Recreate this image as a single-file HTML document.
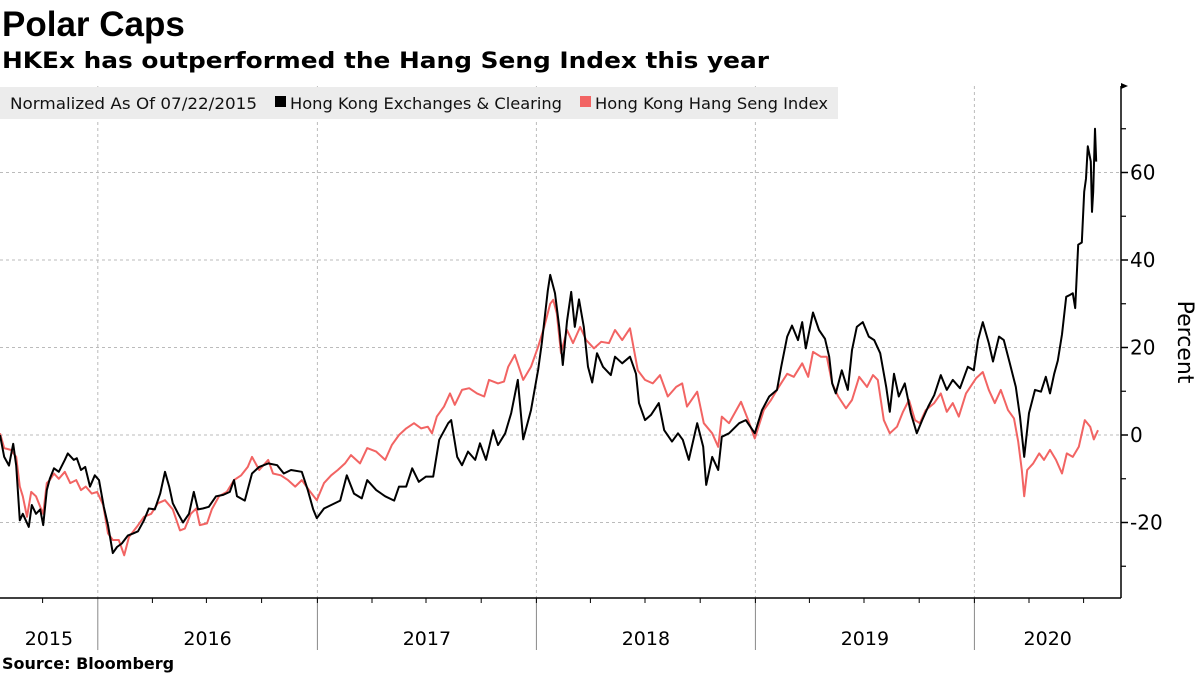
<!DOCTYPE html>
<html><head><meta charset="utf-8"><style>
body{margin:0;background:#fff;width:1200px;height:675px;overflow:hidden;font-family:"DejaVu Sans",sans-serif}
</style></head><body>
<svg id="chart" width="1200" height="675" xmlns="http://www.w3.org/2000/svg">
<text x="2" y="36" font-size="35" font-weight="bold" font-family="Liberation Sans, sans-serif">Polar Caps</text>
<text x="2" y="68" font-size="22" font-weight="bold" font-family="DejaVu Sans, sans-serif" textLength="767" lengthAdjust="spacingAndGlyphs">HKEx has outperformed the Hang Seng Index this year</text>
<g id="grid"></g>
<g id="axes" font-family="DejaVu Sans, sans-serif"></g>
<g id="series"></g>
<g font-family="DejaVu Sans, sans-serif">
<rect x="0" y="87" width="838" height="32" fill="#ececec"/>
<text x="10" y="109" font-size="16" fill="#111" textLength="247" lengthAdjust="spacingAndGlyphs">Normalized As Of 07/22/2015</text>
<rect x="275" y="96" width="11" height="11" fill="#000"/>
<text x="290" y="109" font-size="16" fill="#111" textLength="272" lengthAdjust="spacingAndGlyphs">Hong Kong Exchanges &amp; Clearing</text>
<rect x="580" y="96" width="11" height="11" fill="#f26463"/>
<text x="595" y="109" font-size="16" fill="#111" textLength="233" lengthAdjust="spacingAndGlyphs">Hong Kong Hang Seng Index</text>
</g>
<text transform="translate(1178,342) rotate(90)" text-anchor="middle" font-size="22" fill="#000" font-family="DejaVu Sans, sans-serif">Percent</text>
<text x="2" y="669" font-size="16" font-weight="bold" font-family="DejaVu Sans, sans-serif">Source: Bloomberg</text>
</svg>
<script>
// days since 2015-07-22
const hkexDays=[0,7,15,22,27,33,38,48,53,60,67,72,78,83,90,98,108,113,123,128,135,142,150,158,165,173,180,188,195,203,213,222,230,240,248,258,267,275,282,288,297,305,315,323,330,338,348,360,372,383,390,395,408,420,432,447,462,473,485,503,513,522,528,540,552,567,578,590,603,612,627,642,657,665,677,687,698,710,722,732,747,752,762,770,780,792,800,810,822,830,842,852,863,872,885,897,903,913,917,925,932,938,945,952,958,965,973,980,987,995,1005,1018,1025,1037,1050,1060,1065,1075,1085,1098,1107,1120,1130,1138,1148,1162,1172,1177,1187,1197,1203,1215,1232,1243,1258,1270,1282,1295,1302,1312,1320,1330,1337,1343,1355,1365,1375,1382,1387,1393,1403,1413,1420,1428,1438,1448,1457,1467,1477,1483,1490,1498,1508,1518,1528,1537,1547,1557,1568,1578,1588,1600,1613,1623,1630,1638,1648,1655,1665,1673,1683,1693,1700,1707,1715,1725,1735,1743,1750,1757,1763,1770,1777,1783,1788,1792,1797,1803,1807,1810,1813,1818,1820,1822,1825,1827];
const hkexValues=[0,-5,-7,-2,-7,-19.5,-18,-21,-16,-18,-17,-20.6,-12.6,-10,-7.6,-8.4,-5.7,-4.2,-5.7,-5.3,-8,-7.3,-11.8,-9.2,-10.3,-16.4,-20.6,-27,-25.6,-24.8,-23,-22.5,-22,-19.5,-16.8,-17,-13.4,-8.4,-11.8,-15.6,-18,-20,-18,-13,-17,-16.8,-16.4,-14,-13.7,-13,-10.3,-14,-15,-8.8,-7.3,-6.5,-6.9,-8.8,-8,-8.4,-12.6,-17,-19,-16.8,-16,-15,-9.2,-13.4,-14.5,-10.3,-12.6,-14,-15,-11.8,-11.8,-7.6,-10.7,-9.5,-9.5,-1.1,2.7,3.4,-5,-6.9,-3.8,-5.7,-1.9,-5.7,1.1,-2.3,0.4,5,12.6,-1,5.7,15,21,33,36.6,32.4,24.7,16,26,32.7,24.7,31,24.7,15.6,12,18.7,15.6,13.7,17.9,16.4,17.9,14,7.3,3.4,4.6,7.3,1.1,-1.5,0.4,-1.1,-5.7,2.7,-2.7,-11.4,-5,-8,-0.4,0.4,2.7,3.4,0.4,5.7,8.8,10.3,15.6,22.5,25,21.7,25.8,19.8,28,24,22,17.9,11.8,9.5,14.8,10.3,19.4,24.7,25.8,22.5,21.7,18.7,11,5.3,14,8.8,11.8,5,0.4,3.4,6.5,9.1,13.7,10.3,12.6,10.7,15.6,14.8,21.7,25.8,21,16.8,22.5,21.7,16.4,11,4.2,-5,5,10.3,9.9,13.3,9.5,14,17,23,31.6,32,32.4,29,43.5,44,55.6,58.6,66,62.5,51,55.6,70,62.5];
const hsiDays=[0,7,18,27,33,38,45,52,60,67,72,78,83,90,98,108,117,127,135,143,153,162,172,180,188,198,207,215,228,240,252,263,275,288,300,308,318,327,333,345,353,365,378,390,402,413,420,432,447,455,468,480,492,503,515,528,540,552,563,575,585,600,612,627,642,653,665,677,690,702,713,720,728,740,750,758,770,782,795,807,815,830,840,847,858,872,885,897,907,917,922,928,935,945,955,967,977,990,1002,1015,1025,1037,1050,1063,1075,1088,1100,1113,1127,1137,1145,1162,1173,1187,1197,1203,1215,1235,1247,1258,1273,1285,1298,1312,1323,1337,1347,1355,1368,1378,1387,1397,1410,1420,1432,1445,1455,1463,1473,1483,1495,1505,1515,1525,1533,1543,1557,1568,1578,1588,1598,1610,1627,1638,1648,1658,1668,1680,1690,1697,1703,1707,1712,1722,1732,1740,1750,1760,1770,1778,1788,1798,1808,1817,1823,1830];
const hsiValues=[0.4,-3,-3.4,-5,-11.8,-14,-18.7,-13,-14,-16.4,-18,-11,-10.3,-8.8,-10,-8.4,-11,-10.3,-12.6,-11.8,-13.4,-13,-16,-22.5,-24,-24,-27.5,-23.3,-21,-18.7,-18,-15.6,-14.9,-17,-21.8,-21.4,-18,-16.8,-20.6,-20.2,-17,-14,-13,-10.3,-9.2,-7.3,-5,-8,-5.7,-8.8,-9.2,-10.3,-11.8,-10.3,-12.6,-14.9,-11,-9.2,-8,-6.5,-4.6,-6.5,-3,-3.8,-5.7,-2.3,0,1.5,2.7,1.5,1.9,0.4,4.2,6.5,9.5,6.9,10.3,10.7,9.5,8.8,12.6,11.8,12.2,15.6,18.3,12.6,15.6,20.2,24.7,30,30.9,27.8,18.7,24,21,24.7,21.7,19.8,21.3,21,24,21.7,24.4,14.8,12.6,11.8,13.7,8.8,11,11.8,6.5,9.9,2.7,0.4,-2.7,4.2,2.7,7.6,3.4,-0.8,5.7,8,11,14,13.3,16.4,13.3,19,17.9,17.9,11.8,8.8,6.1,8,13.3,11,13.7,12.6,3.4,0.4,1.9,5.3,8,3.4,2.7,5.7,7.3,9.5,5.3,7.3,4.2,9.5,13,14.4,10.3,7.3,10.3,5.7,3.8,-1.5,-8,-14,-8,-6.5,-4.2,-5.7,-3.4,-5.7,-8.8,-4.2,-5,-2.7,3.4,1.9,-1,1.1];
const yTicks=[-20,0,20,40,60];
const yMinor=[-30,-10,10,30,50,70];
const yearLabels=["2015","2016","2017","2018","2019","2020"];
const yearStartDays=[-204,163,529,894,1259,1624]; // Jan 1 of each year, days from 2015-07-22
const quarterDays=[71,254,344,436,529,620,710,802,894,984,1075,1167,1259,1349,1440,1532,1624,1715,1806];

const NS="http://www.w3.org/2000/svg";
const X0=0,X1=1121,Y0=86,Y1=598;
function xs(d){return X0+d*0.6;}
function ys(v){return 435-v*4.375;}
function mk(tag,attrs,parent){const e=document.createElementNS(NS,tag);for(const k in attrs)e.setAttribute(k,attrs[k]);parent.appendChild(e);return e;}
const grid=document.getElementById('grid'),axes=document.getElementById('axes'),series=document.getElementById('series');

yTicks.forEach(v=>{
  const l=mk('line',{x1:X0,x2:X1,y1:ys(v),y2:ys(v),stroke:'#bbb','stroke-dasharray':'3,3','stroke-width':1},grid);
  
  
  const t=mk('line',{x1:X1,x2:X1+7,y1:ys(v),y2:ys(v),stroke:'#000','stroke-width':1.5},axes);
  
  
  const tx=mk('text',{x:X1+9,y:ys(v)+7,'font-size':20,fill:'#000'},axes);
  tx.textContent=String(v);
  
  
});
yMinor.forEach(v=>{
  const t=mk('line',{x1:X1,x2:X1+5,y1:ys(v),y2:ys(v),stroke:'#000','stroke-width':1.2},axes);
  
  
});
yearStartDays.forEach((d,i)=>{
  if(i>0){
    const g=mk('line',{x1:xs(d),x2:xs(d),y1:Y0,y2:Y1,stroke:'#bbb','stroke-dasharray':'3,3','stroke-width':1},grid);
    
    
    const s=mk('line',{x1:xs(d),x2:xs(d),y1:Y1,y2:650,stroke:'#888','stroke-width':1},axes);
    
    
  }
  const a=Math.max(xs(d),0), b=Math.min(i+1<yearStartDays.length?xs(yearStartDays[i+1]):X1,X1);
  const t=mk('text',{x:(a+b)/2,y:645,'font-size':19,'text-anchor':'middle',fill:'#000'},axes);
  t.textContent=yearLabels[i];
  
  
});
quarterDays.forEach(d=>{
  const t=mk('line',{x1:xs(d),x2:xs(d),y1:Y1,y2:Y1+5,stroke:'#000','stroke-width':1},axes);
  
  
});
const xa=mk('line',{x1:X0,x2:X1,y1:Y1,y2:Y1,stroke:'#000','stroke-width':1.5},axes);


const ya=mk('line',{x1:X1,x2:X1,y1:Y0,y2:Y1,stroke:'#000','stroke-width':1.5},axes);


const ar=mk('path',{d:`M${X1} ${Y0-3} L${X1+7} ${Y0} L${X1} ${Y0+3}Z`,fill:'#000'},axes);



function line(days,vals,color,name){
  const d=days.map((dd,i)=>(i?'L':'M')+xs(dd).toFixed(1)+' '+ys(vals[i]).toFixed(1)).join(' ');
  const p=mk('path',{d:d,fill:'none',stroke:color,'stroke-width':2,'stroke-linejoin':'round'},series);
  
  
}
line(hsiDays,hsiValues,'#f26463','hsi-line');
line(hkexDays,hkexValues,'#000','hkex-line');
</script>
</body></html>
